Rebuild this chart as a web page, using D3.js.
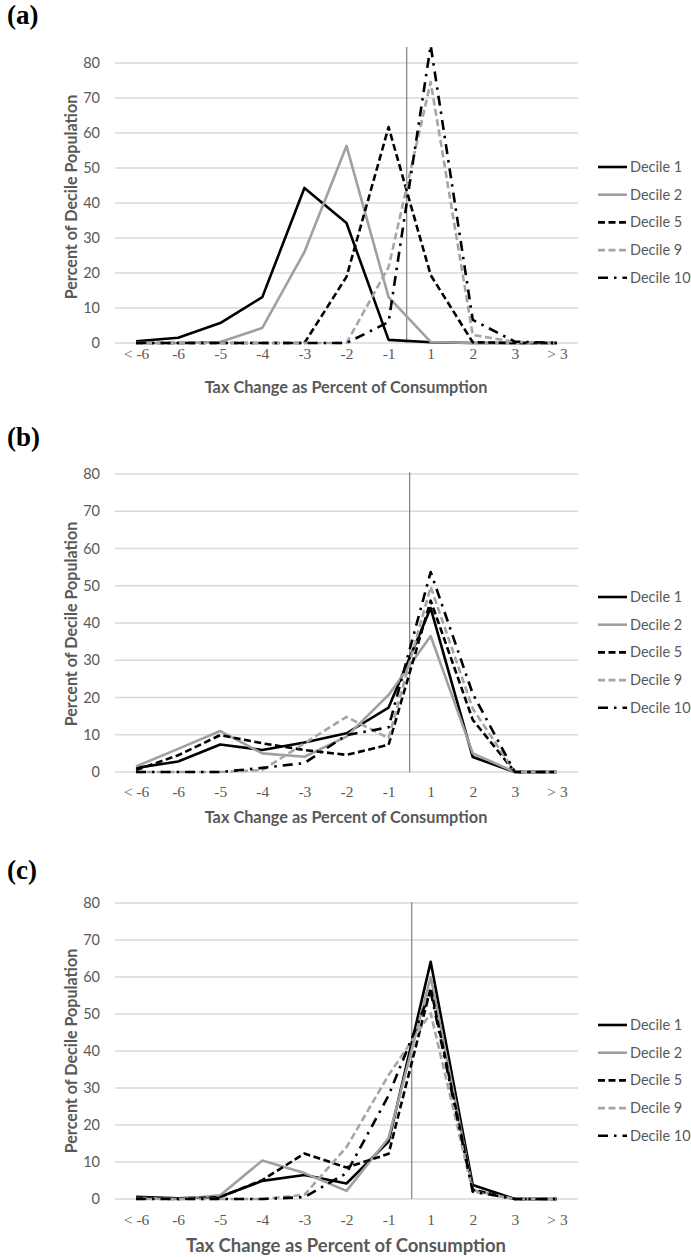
<!DOCTYPE html>
<html><head><meta charset="utf-8">
<script src="https://cdn.jsdelivr.net/npm/d3@7"></script>
<style>html,body{margin:0;padding:0;background:#fff;}svg{display:block;}</style>
</head><body>
<script>
// ---- data ----
const categories = ["< -6","-6","-5","-4","-3","-2","-1","1","2","3","> 3"];
const yTicks = [0,10,20,30,40,50,60,70,80];
const seriesNames = ["Decile 1","Decile 2","Decile 5","Decile 9","Decile 10"];

const a_d1  = [0.5,1.5,5.7,13.1,44.3,34.3,0.9,0.2,0,0,0];
const a_d2  = [0,0,0.3,4.3,26,56.3,13.1,0.3,0,0,0];
const a_d5  = [0,0,0,0,0,18.9,61.7,19.4,0.2,0,0];
const a_d9  = [0,0,0,0,0,0,21.7,74.6,2.3,0.3,0];
const a_d10 = [0,0,0,0,0,0,6,85,6.6,0.4,0];

const b_d1  = [1.1,2.8,7.4,5.9,7.9,10.4,17.3,44,4,0,0];
const b_d2  = [1.5,6.2,11,5,4.1,9.5,20.7,36.5,5,0,0];
const b_d5  = [0.5,4.5,9.9,7.7,5.9,4.6,7.3,46,14,0,0];
const b_d9  = [0,0,0,0.5,7.7,14.8,9.1,49.7,17,0,0];
const b_d10 = [0,0,0,1.1,2.4,9.9,12,53.7,21,0,0];

const c_d1  = [0.6,0.2,0.6,4.9,6.5,4.2,15.5,64.1,3.8,0,0];
const c_d2  = [0.3,0,1,10.4,7,2.2,16.5,60,2.4,0,0];
const c_d5  = [0.3,0,0.5,5.1,12.3,8.5,12.2,57,2.5,0,0];
const c_d9  = [0,0,0,0,1.1,14,33.5,50.2,2,0,0];
const c_d10 = [0,0,0,0,0.5,7,28,56,2,0,0];

// ---- styles ----
const seriesStyle = [
  {color:"#000000", dash:null},
  {color:"#a0a0a0", dash:null},
  {color:"#000000", dash:"7,3.5"},
  {color:"#a5a5a5", dash:"7,3.5"},
  {color:"#000000", dash:"10,6,2.5,6"}
];

const panels = [
  {label:"(a)", labelY:24, top:63, bottom:343, tickDy:17, titleY:393, titleW:283, yTitleC:197, vFrac:0.43, vTop:84.6, legendY:167, data:[a_d1,a_d2,a_d5,a_d9,a_d10]},
  {label:"(b)", labelY:446, top:474, bottom:772, tickDy:26, titleY:823, titleW:283, yTitleC:624, vFrac:0.5, vTop:80.5, legendY:597, data:[b_d1,b_d2,b_d5,b_d9,b_d10]},
  {label:"(c)", labelY:879, top:903, bottom:1199, tickDy:27, titleY:1252, titleW:320, yTitleC:1051, vFrac:0.55, vTop:80.3, legendY:1025, data:[c_d1,c_d2,c_d5,c_d9,c_d10]}
];

const W = 691, H = 1257;
const svg = d3.select("body").append("svg").attr("width", W).attr("height", H)
  .style("background","#fff");

const plotLeft = 115, plotRight = 578;
const x = d3.scalePoint().domain(categories).range([plotLeft, plotRight]).padding(0.5);
const sansFont = "Lato, 'Open Sans', 'DejaVu Sans', sans-serif";
const serifFont = "'Liberation Serif', 'Times New Roman', serif";
const textGray = "#595959";

// size a text element so that its rendered length matches a target width
function fitText(sel, base, target) {
  sel.attr("font-size", base);
  const len = sel.node().getComputedTextLength();
  if (len > 0) sel.attr("font-size", base * target / len);
}

panels.forEach(p => {
  const g = svg.append("g");
  const y = d3.scaleLinear().domain([0,80]).range([p.bottom, p.top]);

  // panel label
  g.append("text").attr("x", 7).attr("y", p.labelY)
    .attr("font-family", serifFont).attr("font-weight","bold").attr("font-size", 27)
    .attr("fill","#000").text(p.label);

  // gridlines
  g.append("g").selectAll("line").data(yTicks).join("line")
    .attr("x1", plotLeft).attr("x2", plotRight)
    .attr("y1", d => y(d)).attr("y2", d => y(d))
    .attr("stroke", "#d9d9d9").attr("stroke-width", 1.3);

  // y axis labels
  const yAxis = d3.axisLeft(y).tickValues(yTicks).tickSize(0).tickPadding(0);
  const ya = g.append("g").attr("transform", `translate(${plotLeft-15},0)`).call(yAxis);
  ya.select(".domain").remove();
  ya.selectAll("text").attr("font-family", sansFont).attr("font-size", 14.5).attr("fill", textGray);

  // x axis labels
  const xAxis = d3.axisBottom(x).tickSize(0).tickPadding(0);
  const xa = g.append("g").attr("transform", `translate(0,${p.bottom + p.tickDy - 12})`).call(xAxis);
  xa.select(".domain").remove();
  xa.selectAll("text").attr("font-family", serifFont).attr("font-size", 15.5).attr("fill", textGray);

  // vertical reference line
  const vx = x("-1") + p.vFrac * (x("1") - x("-1"));
  g.append("line").attr("x1", vx).attr("x2", vx)
    .attr("y1", y(0)).attr("y2", y(p.vTop))
    .attr("stroke", "#808080").attr("stroke-width", 1.2);

  // axis titles
  const yt = g.append("text")
    .attr("transform", `translate(77,${p.yTitleC}) rotate(-90)`)
    .attr("text-anchor","middle")
    .attr("font-family", sansFont).attr("font-weight","bold")
    .attr("fill", textGray).text("Percent of Decile Population");
  fitText(yt, 14, 205);
  const xt = g.append("text")
    .attr("x", 346).attr("y", p.titleY)
    .attr("text-anchor","middle")
    .attr("font-family", sansFont).attr("font-weight","bold")
    .attr("fill", textGray).text("Tax Change as Percent of Consumption");
  fitText(xt, 14, p.titleW);

  // series lines
  const line = d3.line().x((d,i) => x(categories[i])).y(d => y(d));
  p.data.forEach((vals, si) => {
    const st = seriesStyle[si];
    g.append("path").datum(vals)
      .attr("d", line).attr("fill","none")
      .attr("stroke", st.color).attr("stroke-width", 2.6)
      .attr("stroke-linejoin","round")
      .attr("stroke-dasharray", st.dash);
  });

  // legend
  const lg = g.append("g");
  seriesNames.forEach((name, si) => {
    const st = seriesStyle[si];
    const ly = p.legendY + si * 27.7;
    lg.append("line").attr("x1", 598).attr("x2", 627).attr("y1", ly).attr("y2", ly)
      .attr("stroke", st.color).attr("stroke-width", 2.6)
      .attr("stroke-dasharray", st.dash);
    lg.append("text").attr("x", 630).attr("y", ly + 5)
      .attr("font-family", sansFont).attr("font-size", 14.5).attr("fill", textGray)
      .text(name);
  });
});
</script>
</body></html>
